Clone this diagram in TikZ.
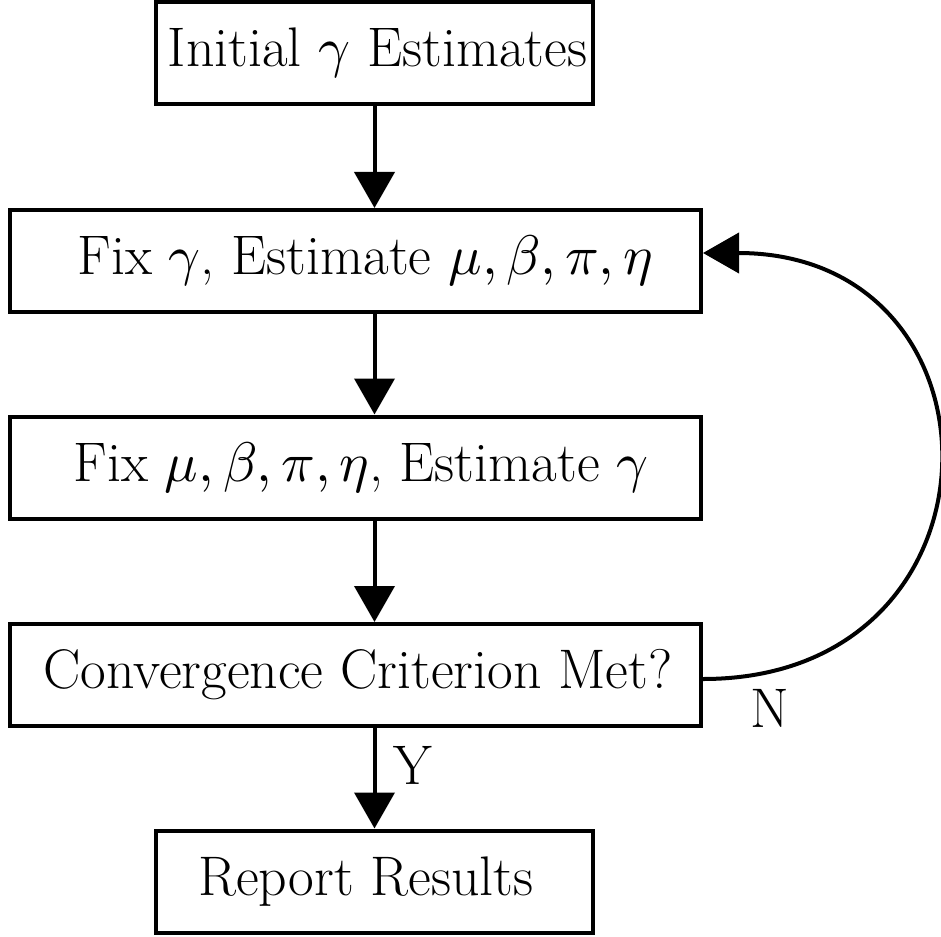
\documentclass[tikz,border=0pt]{standalone}
\usepackage{fontspec}
\usepackage{unicode-math}
\setmainfont{Latin Modern Roman}
\setmathfont{Latin Modern Math}
\usetikzlibrary{arrows.meta}
\begin{document}
\begin{tikzpicture}[x=0.5pt,y=-0.5pt,
  txt/.style={font=\fontsize{27.9}{34}\selectfont},
  box/.style={txt, draw, line width=2pt, inner sep=0pt, align=center, minimum height=51pt},
  narrowbox/.style={box, minimum width=218.5pt},
  widebox/.style={box, minimum width=345.5pt},
  flow/.style={-{Triangle[length=18pt,width=20pt]}, line width=2pt},
  lbl/.style={txt, inner sep=0pt}]
\useasboundingbox (0,0) rectangle (941,936);

% process steps (leading/trailing space nudges the text off-centre)
\node[narrowbox] (init) at (374.5,53.5) {\hspace*{3pt}Initial $\gamma$ Estimates};
\node[widebox] (fixg) at (355.5,261) {\hspace*{9.5pt}Fix $\gamma$, Estimate $\mu,\beta,\pi,\eta$};
\node[widebox] (estg) at (355.5,467.5) {\hspace*{5.5pt}Fix $\mu,\beta,\pi,\eta$, Estimate $\gamma$};
\node[widebox] (conv) at (355.5,675) {\hspace*{2.5pt}Convergence Criterion Met?};
\node[narrowbox] (rep) at (374.5,881.5) {Report Results\hspace*{8.5pt}};

% vertical flow
\draw[flow] (init.south) -- (init.south |- fixg.north);
\draw[flow] (init.south |- fixg.south) -- (init.south |- estg.north);
\draw[flow] (init.south |- estg.south) -- (init.south |- conv.north);
\draw[flow] (init.south |- conv.south) -- (rep.north);

% loop back when not converged
\coordinate (loopout) at ([yshift=-2pt]conv.east);
\coordinate (loopin) at ([yshift=4pt]fixg.east);
\draw[flow] (loopout) .. controls ++(313,0) and ([xshift=156.5pt]loopin) .. (loopin);

% branch labels
\node[lbl] (ylab) at (413,765) {Y};
\node[lbl] (nlab) at (770,708) {N};
\end{tikzpicture}
\end{document}
